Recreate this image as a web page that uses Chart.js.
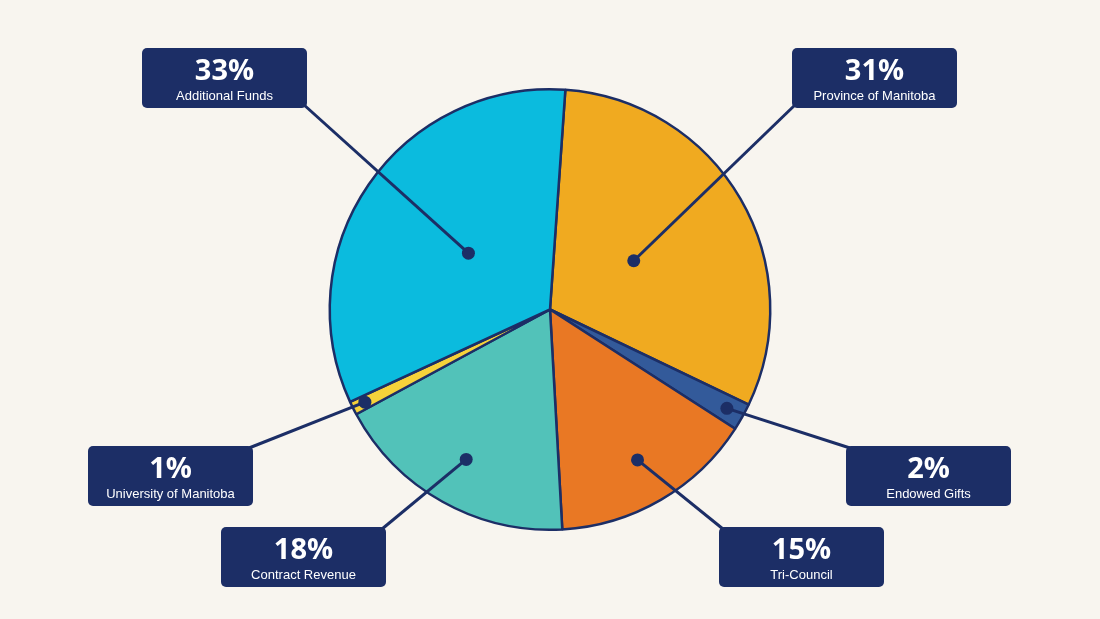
<!DOCTYPE html>
<html>
<head>
<meta charset="utf-8">
<script src="https://cdn.jsdelivr.net/npm/chart.js@4"></script>
<style>
  html, body { margin: 0; padding: 0; background: #f8f5ef; }
  #wrap { width: 1100px; height: 619px; }
</style>
</head>
<body>
<div id="wrap"><canvas id="pieChart"></canvas></div>
<script>
// Funding sources, clockwise from the top
const labels = ['Province of Manitoba', 'Endowed Gifts', 'Tri-Council', 'Contract Revenue', 'University of Manitoba', 'Additional Funds'];
const shares = [31, 2, 15, 18, 1, 33];
const colors = ['#f0aa20', '#335a9a', '#e97824', '#52c2b9', '#f6d23a', '#0bbbde'];

// callout layout: box left/top, and how far out along the slice the dot sits
const callouts = [
  { x: 792, y: 48, r: 0.44 },
  { x: 846, y: 446, r: 0.92 },
  { x: 719, y: 527, r: 0.79 },
  { x: 221, y: 527, r: 0.78 },
  { x: 88, y: 446, r: 0.94 },
  { x: 142, y: 48, r: 0.45 }
];
const BOX_W = 165, BOX_H = 60, NAVY = '#1c2e66';

const calloutPlugin = {
  id: 'callouts',
  afterDraw(chart) {
    const ctx = chart.ctx;
    const arcs = chart.getDatasetMeta(0).data;
    arcs.forEach((arc, i) => {
      const c = callouts[i];
      const mid = (arc.startAngle + arc.endAngle) / 2;
      const dx = arc.x + Math.cos(mid) * arc.outerRadius * c.r;
      const dy = arc.y + Math.sin(mid) * arc.outerRadius * c.r;
      // nearest box corner
      const cx = dx < c.x ? c.x + 4 : c.x + BOX_W - 4;
      const cy = dy < c.y ? c.y + 2 : c.y + BOX_H - 4;
      const ex = Math.abs(dx - c.x) < Math.abs(dx - (c.x + BOX_W)) ? c.x + 4 : c.x + BOX_W - 4;
      ctx.save();
      ctx.strokeStyle = NAVY;
      ctx.lineWidth = 3;
      ctx.beginPath();
      ctx.moveTo(dx, dy);
      ctx.lineTo(ex, cy);
      ctx.stroke();
      ctx.fillStyle = NAVY;
      ctx.beginPath();
      ctx.arc(dx, dy, 6.5, 0, Math.PI * 2);
      ctx.fill();
      ctx.beginPath();
      ctx.roundRect(c.x, c.y, BOX_W, BOX_H, 5);
      ctx.fill();
      ctx.fillStyle = '#ffffff';
      ctx.textAlign = 'center';
      ctx.textBaseline = 'alphabetic';
      ctx.font = 'bold 29px "Open Sans", sans-serif';
      ctx.fillText(shares[i] + '%', c.x + BOX_W / 2, c.y + 32);
      ctx.font = '13px "Liberation Sans", sans-serif';
      ctx.fillText(labels[i], c.x + BOX_W / 2, c.y + 52);
      ctx.restore();
    });
  }
};

new Chart(document.getElementById('pieChart').getContext('2d'), {
  type: 'pie',
  data: {
    labels: labels,
    datasets: [{ data: shares, backgroundColor: colors, borderColor: NAVY, borderWidth: 2.5 }]
  },
  options: {
    responsive: true,
    maintainAspectRatio: false,
    animation: false,
    rotation: 4,
    layout: { padding: { top: 88, bottom: 88 } },
    plugins: { legend: { display: false }, tooltip: { enabled: false } }
  },
  plugins: [calloutPlugin]
});
</script>
</body>
</html>
